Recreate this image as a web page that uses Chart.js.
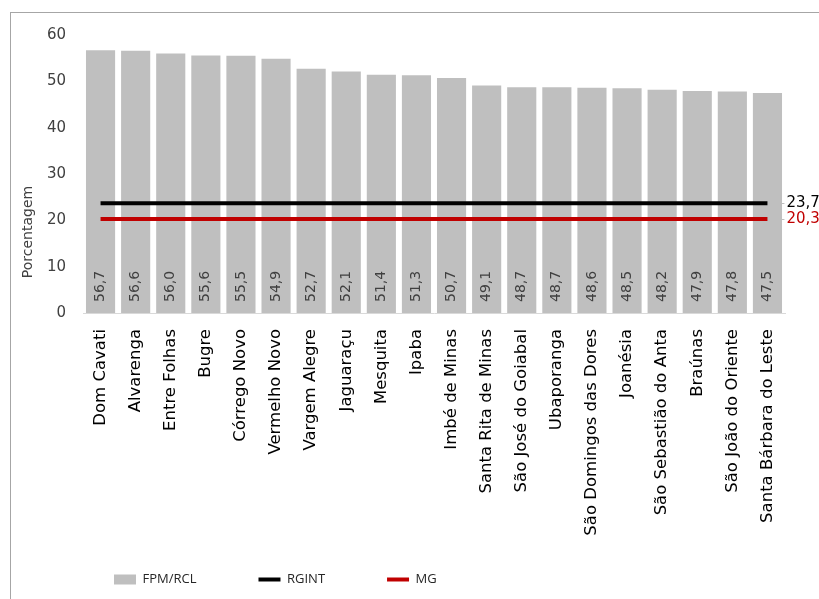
<!DOCTYPE html>
<html>
<head>
<meta charset="utf-8">
<script src="https://cdn.jsdelivr.net/npm/chart.js@4.4.1/dist/chart.umd.min.js"></script>
<style>
  html, body { margin: 0; padding: 0; background: #fff; overflow: hidden; }
  #wrap { width: 819px; height: 599px; }
</style>
</head>
<body>
<div id="wrap"><canvas id="chart" width="819" height="599"></canvas></div>
<script>
  // ---------- Data ----------
  const municipios = [
    "Dom Cavati", "Alvarenga", "Entre Folhas", "Bugre", "Córrego Novo",
    "Vermelho Novo", "Vargem Alegre", "Jaguaraçu", "Mesquita", "Ipaba",
    "Imbé de Minas", "Santa Rita de Minas", "São José do Goiabal", "Ubaporanga",
    "São Domingos das Dores", "Joanésia", "São Sebastião do Anta", "Braúnas",
    "São João do Oriente", "Santa Bárbara do Leste"
  ];
  const fpmRcl = [56.7, 56.6, 56.0, 55.6, 55.5, 54.9, 52.7, 52.1, 51.4, 51.3,
                  50.7, 49.1, 48.7, 48.7, 48.6, 48.5, 48.2, 47.9, 47.8, 47.5];
  const rgint = 23.7;   // média da região intermediária
  const mg = 20.3;      // média do estado
  const yTicks = [0, 10, 20, 30, 40, 50, 60];

  const fmt = (v) => v.toFixed(1).replace(".", ",");
  const FONT = "'DejaVu Sans', sans-serif";
  const LEGEND_FONT = "'Open Sans', sans-serif";
  // labels run past their axis box here, so don't clip them to it
  const noLabelClip = (scale) => { scale._computeLabelArea = () => undefined; };

  // frame around the chart
  const framePlugin = {
    id: "frame",
    beforeDraw(chart) {
      const { ctx } = chart;
      ctx.save();
      ctx.strokeStyle = "#a6a6a6";
      ctx.lineWidth = 1;
      ctx.strokeRect(10.5, 12.5, 1000, 1000);
      ctx.restore();
    }
  };

  // value labels inside bars + labels at the end of reference lines
  const labelsPlugin = {
    id: "valueLabels",
    afterDatasetsDraw(chart) {
      const { ctx } = chart;
      ctx.save();
      const bars = chart.getDatasetMeta(0);
      ctx.font = "14px " + FONT;
      ctx.fillStyle = "#404040";
      ctx.textAlign = "left";
      ctx.textBaseline = "middle";
      bars.data.forEach((el, i) => {
        ctx.save();
        ctx.translate(el.x, el.base - 11);
        ctx.rotate(-Math.PI / 2);
        ctx.fillText(fmt(fpmRcl[i]), 0, 0);
        ctx.restore();
      });
      [1, 2].forEach((di) => {
        const meta = chart.getDatasetMeta(di);
        const ds = chart.data.datasets[di];
        const last = meta.data[meta.data.length - 1];
        ctx.strokeStyle = "#bfbfbf";
        ctx.lineWidth = 1;
        ctx.beginPath();
        ctx.moveTo(last.x + 2, Math.round(last.y) + 0.5);
        ctx.lineTo(last.x + 17, Math.round(last.y) + 0.5);
        ctx.stroke();
        ctx.font = "15px " + FONT;
        ctx.fillStyle = ds.labelColor;
        ctx.fillText(fmt(ds.data[ds.data.length - 1]), last.x + 19, last.y);
      });
      ctx.restore();
    }
  };

  // y axis title
  const yTitlePlugin = {
    id: "yTitle",
    afterDraw(chart) {
      const { ctx } = chart;
      ctx.save();
      ctx.translate(28, 232);
      ctx.rotate(-Math.PI / 2);
      ctx.font = "14px " + FONT;
      ctx.fillStyle = "#404040";
      ctx.textAlign = "center";
      ctx.textBaseline = "middle";
      ctx.fillText("Porcentagem", 0, 0);
      ctx.restore();
    }
  };

  new Chart(document.getElementById("chart"), {
    type: "bar",
    data: {
      labels: municipios,
      datasets: [
        {
          label: "FPM/RCL",
          data: fpmRcl,
          backgroundColor: "#bfbfbf",
          borderWidth: 0,
          categoryPercentage: 1,
          barPercentage: 0.83,
          order: 1,
          pointStyle: "rect"
        },
        {
          type: "line",
          label: "RGINT",
          data: municipios.map(() => rgint),
          borderColor: "#000000",
          backgroundColor: "#000000",
          borderWidth: 4,
          pointRadius: 0,
          labelColor: "#000000",
          order: 0,
          pointStyle: "line"
        },
        {
          type: "line",
          label: "MG",
          data: municipios.map(() => mg),
          borderColor: "#c00000",
          backgroundColor: "#c00000",
          borderWidth: 4,
          pointRadius: 0,
          labelColor: "#c00000",
          order: 0,
          pointStyle: "line"
        }
      ]
    },
    options: {
      responsive: false,
      animation: false,
      layout: { padding: { left: 52, right: 34, top: 35, bottom: 3 } },
      plugins: {
        tooltip: { enabled: false },
        legend: {
          position: "bottom",
          align: "start",
          labels: {
            usePointStyle: true,
            pointStyleWidth: 22,
            boxHeight: 10,
            padding: 62,
            color: "#262626",
            font: { family: LEGEND_FONT, size: 13 },
            sort: (a, b) => a.datasetIndex - b.datasetIndex
          }
        }
      },
      scales: {
        x: {
          grid: { display: false, drawTicks: false },
          border: { color: "#d9d9d9" },
          ticks: {
            minRotation: 90,
            maxRotation: 90,
            autoSkip: false,
            padding: 16,
            color: "#000000",
            font: { family: FONT, size: 16.5 }
          },
          afterFit(scale) { scale.height = 198; },
          afterUpdate: noLabelClip
        },
        y: {
          min: 0,
          max: 60,
          afterBuildTicks(scale) { scale.ticks = yTicks.map((v) => ({ value: v })); },
          grid: { display: false, drawTicks: false },
          border: { display: false },
          ticks: {
            padding: 17,
            color: "#404040",
            font: { family: FONT, size: 15 }
          },
          afterFit(scale) { scale.width = 31; },
          afterUpdate: noLabelClip
        }
      }
    },
    plugins: [framePlugin, labelsPlugin, yTitlePlugin]
  });
</script>
</body>
</html>
